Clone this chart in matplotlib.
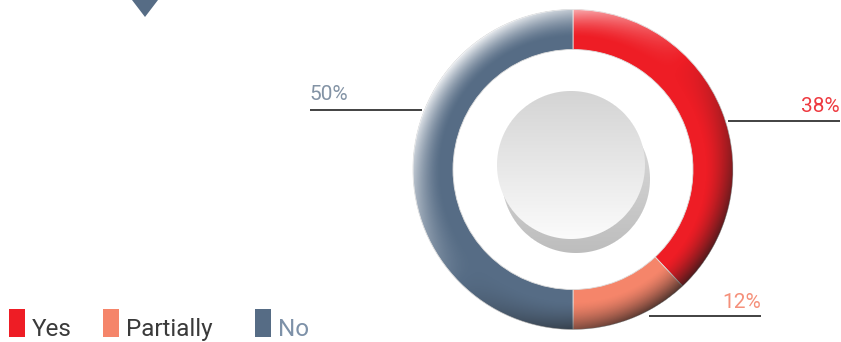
import matplotlib
matplotlib.use("Agg")
import matplotlib.pyplot as plt
import matplotlib.patches as pat
import numpy as np

W, H = 841, 342

# data
categories = ["Yes", "Partially", "No"]
shares = [38, 12, 50]
colors = ["#ee1d25", "#f5856a", "#566c85"]
label_colors = ["#ee3a40", "#f5907a", "#8393a5"]
legend_text_colors = ["#3a3a3a", "#3a3a3a", "#7d91a8"]

# layout (pixel coords, y measured from top)
CX, CY = 573, 169.5
R_OUT, RING_W = 160, 40
label_pos = [(840, 112, "right"), (761, 308, "right"), (309, 100, "left")]
label_lines = [(728, 840, 121), (649, 761, 316), (310, 422, 110)]
legend_x = [9, 103, 255]

plt.rcParams['font.family'] = ['Roboto', 'DejaVu Sans']

fig = plt.figure(figsize=(W / 100, H / 100), dpi=100)
ax = fig.add_axes([0, 0, 1, 1])

ax.pie(shares, colors=colors, startangle=90, counterclock=False,
       radius=R_OUT, center=(CX, H - CY), frame=True,
       wedgeprops=dict(width=RING_W, linewidth=0.6, edgecolor="#dddddd"))

# ring shading: light on top-left outer rim, dark on bottom-right
yy, xx = np.mgrid[0:H, 0:W] + 0.5
dx = xx - CX
dy = -(yy - CY)
r = np.hypot(dx, dy) + 1e-9
rn = (r - (R_OUT - RING_W)) / RING_W
inside = np.clip(R_OUT - r + 0.5, 0, 1) * np.clip(r - (R_OUT - RING_W) + 0.5, 0, 1)
w = np.clip((rn - 0.3) / 0.7, 0, 1) ** 1.5
d = (-dx + dy) / (r * np.sqrt(2))
shade = np.zeros((H, W, 4))
light = d > 0
shade[..., :3] = np.where(light[..., None], 1.0, 0.1)
shade[..., 3] = inside * w * np.where(light, d * 0.9, -d * 0.75)
ax.imshow(shade, extent=(0, W, 0, H), origin="upper", zorder=3, interpolation="bilinear")

# center button: shadow + gradient disc
BX, BY, BR = 571, 165, 74
sd = np.hypot(xx - (BX + 5), yy - (BY + 14))
sa = np.clip(BR - sd + 0.5, 0, 1)
sh = np.zeros((H, W, 4))
g = np.clip((yy - (BY - 40)) / 130, 0, 1)
sh[..., 0] = sh[..., 1] = sh[..., 2] = 0.86 - 0.12 * g
sh[..., 3] = sa
ax.imshow(sh, extent=(0, W, 0, H), origin="upper", zorder=4, interpolation="bilinear")

bd = np.hypot(xx - BX, yy - BY)
ba = np.clip(BR - bd + 0.5, 0, 1)
bt = np.clip((yy - (BY - BR)) / (2 * BR), 0, 1)
btn = np.zeros((H, W, 4))
btn[..., 0] = btn[..., 1] = btn[..., 2] = 0.83 + 0.155 * bt
btn[..., 3] = ba
ax.imshow(btn, extent=(0, W, 0, H), origin="upper", zorder=5, interpolation="bilinear")

# percentage labels with leader lines
for i, cat in enumerate(categories):
    x, y, ha = label_pos[i]
    ax.text(x, H - y, f"{shares[i]}%", color=label_colors[i], fontsize=15,
            ha=ha, va="baseline", zorder=6)
    x0, x1, ly = label_lines[i]
    ax.plot([x0, x1], [H - ly, H - ly], color="#333333", lw=1.3, zorder=6,
            solid_capstyle="butt")

# legend
for i, cat in enumerate(categories):
    ax.add_patch(pat.Rectangle((legend_x[i], H - 337), 16, 28, color=colors[i], lw=0))
    ax.text(legend_x[i] + 23, H - 336, cat, color=legend_text_colors[i], fontsize=17.5,
            ha="left", va="baseline")

# small marker triangle at top
ax.add_patch(pat.Polygon([(132, H), (158, H), (145, H - 17)], closed=True,
                         color="#566c85", lw=0))

ax.set_xlim(0, W)
ax.set_ylim(0, H)
ax.set_aspect("auto")
ax.axis("off")
fig.savefig("out.png", dpi=100)
